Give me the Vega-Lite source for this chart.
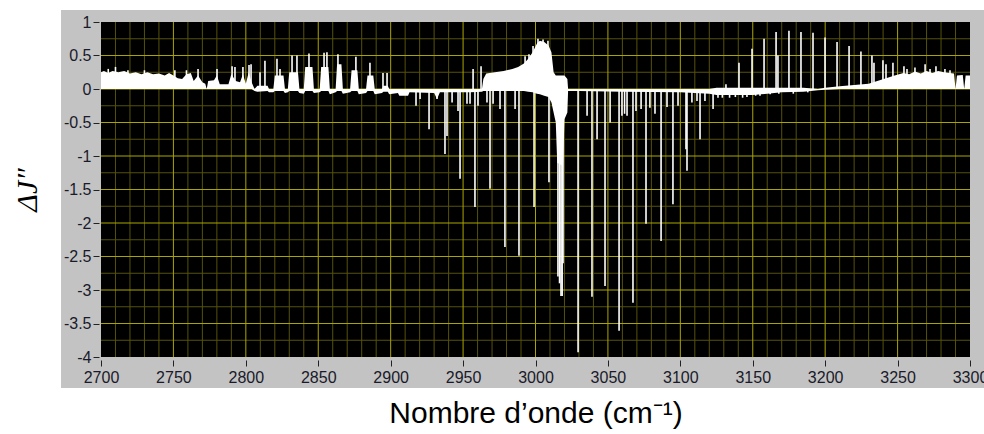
{
  "$schema": "https://vega.github.io/schema/vega-lite/v6.json",
  "width": 869,
  "height": 335,
  "autosize": {"type": "none"},
  "padding": {"left": 101, "top": 22, "right": 14, "bottom": 77},
  "background": "white",
  "config": {"view": {"stroke": null}, "axis": {"grid": false}},
  "resolve": {"axis": {"x": "independent", "y": "independent"}},
  "datasets": {
    "frame": [{"w": 2672.4, "w2": 3310, "v": 1.179, "v2": -4.463}],
    "plot": [{"w": 2700, "w2": 3300, "v": 1, "v2": -4}],
    "vminor": [{"w":2710},{"w":2720},{"w":2730},{"w":2740},{"w":2760},{"w":2770},{"w":2780},{"w":2790},{"w":2810},{"w":2820},{"w":2830},{"w":2840},{"w":2860},{"w":2870},{"w":2880},{"w":2890},{"w":2910},{"w":2920},{"w":2930},{"w":2940},{"w":2960},{"w":2970},{"w":2980},{"w":2990},{"w":3010},{"w":3020},{"w":3030},{"w":3040},{"w":3060},{"w":3070},{"w":3080},{"w":3090},{"w":3110},{"w":3120},{"w":3130},{"w":3140},{"w":3160},{"w":3170},{"w":3180},{"w":3190},{"w":3210},{"w":3220},{"w":3230},{"w":3240},{"w":3260},{"w":3270},{"w":3280},{"w":3290}],
    "vmajor": [{"w":2750},{"w":2800},{"w":2850},{"w":2900},{"w":2950},{"w":3000},{"w":3050},{"w":3100},{"w":3150},{"w":3200},{"w":3250}],
    "hminor": [{"v":0.75},{"v":0.25},{"v":-0.25},{"v":-0.75},{"v":-1.25},{"v":-1.75},{"v":-2.25},{"v":-2.75},{"v":-3.25},{"v":-3.75}],
    "hmajor": [{"v":0.5},{"v":0},{"v":-0.5},{"v":-1},{"v":-1.5},{"v":-2},{"v":-2.5},{"v":-3},{"v":-3.5}],
    "env": [
      {"w":2700,"v":0.25,"v2":0},{"w":2702,"v":0.27,"v2":0},{"w":2705,"v":0.24,"v2":0},{"w":2708,"v":0.27,"v2":0},{"w":2712,"v":0.25,"v2":0},{"w":2716,"v":0.27,"v2":0},{"w":2720,"v":0.23,"v2":0},{"w":2724,"v":0.25,"v2":0},{"w":2728,"v":0.22,"v2":0},{"w":2732,"v":0.25,"v2":0},{"w":2736,"v":0.22,"v2":0},{"w":2740,"v":0.23,"v2":0},{"w":2744,"v":0.2,"v2":0},{"w":2747,"v":0.24,"v2":0},{"w":2750,"v":0.2,"v2":0},{"w":2753,"v":0.16,"v2":0},{"w":2756,"v":0.15,"v2":0},{"w":2759,"v":0.22,"v2":0},{"w":2762,"v":0.24,"v2":0},{"w":2764,"v":0.12,"v2":0},{"w":2767,"v":0.2,"v2":0},{"w":2770,"v":0.1,"v2":0},{"w":2772,"v":0.08,"v2":0},{"w":2773,"v":0.0,"v2":0},{"w":2774,"v":0.12,"v2":0},{"w":2778,"v":0.13,"v2":0},{"w":2780,"v":0.2,"v2":0},{"w":2782,"v":0.07,"v2":0},{"w":2788,"v":0.07,"v2":0},{"w":2790,"v":0.22,"v2":0},{"w":2793,"v":0.12,"v2":0},{"w":2796,"v":0.1,"v2":0},{"w":2798,"v":0.22,"v2":0},{"w":2800,"v":0.08,"v2":0},{"w":2802,"v":0.25,"v2":0},{"w":2804,"v":0.1,"v2":0},
      {"w":2806,"v":0,"v2":-0.03},{"w":2808,"v":0.05,"v2":-0.04},{"w":2815,"v":0.05,"v2":-0.03},{"w":2816,"v":0,"v2":-0.05},{"w":2819,"v":0,"v2":-0.05},{"w":2820,"v":0.2,"v2":-0.03},{"w":2826,"v":0.2,"v2":-0.03},{"w":2827,"v":0,"v2":-0.06},{"w":2829,"v":0,"v2":-0.05},{"w":2830,"v":0.25,"v2":-0.03},{"w":2836,"v":0.25,"v2":-0.03},{"w":2837,"v":0,"v2":-0.06},{"w":2840,"v":0,"v2":-0.07},{"w":2841,"v":0.33,"v2":-0.03},{"w":2846,"v":0.33,"v2":-0.03},{"w":2847,"v":0,"v2":-0.06},{"w":2851,"v":0,"v2":-0.05},{"w":2852,"v":0.33,"v2":-0.03},{"w":2857,"v":0.33,"v2":-0.03},{"w":2858,"v":0,"v2":-0.08},{"w":2862,"v":0,"v2":-0.05},{"w":2863,"v":0.37,"v2":-0.03},{"w":2866,"v":0.37,"v2":-0.03},{"w":2867,"v":0,"v2":-0.07},{"w":2872,"v":0,"v2":-0.05},{"w":2873,"v":0.28,"v2":-0.03},{"w":2877,"v":0.28,"v2":-0.03},{"w":2878,"v":0,"v2":-0.08},{"w":2883,"v":0,"v2":-0.06},{"w":2884,"v":0.2,"v2":-0.03},{"w":2888,"v":0.2,"v2":-0.03},{"w":2889,"v":0,"v2":-0.08},{"w":2894,"v":0,"v2":-0.06},{"w":2895,"v":0.05,"v2":-0.04},{"w":2898,"v":0.05,"v2":-0.04},{"w":2899,"v":0,"v2":-0.08},{"w":2905,"v":0,"v2":-0.06},{"w":2906,"v":0,"v2":-0.1},{"w":2912,"v":0,"v2":-0.1},{"w":2913,"v":0,"v2":-0.05},{"w":2930,"v":0,"v2":-0.06},{"w":2932,"v":0,"v2":-0.15},{"w":2934,"v":0,"v2":-0.05},{"w":2955,"v":0,"v2":-0.05},{"w":2963,"v":0,"v2":-0.04},
      {"w":2964,"v":0.15,"v2":-0.03},{"w":2966,"v":0.23,"v2":-0.03},{"w":2972,"v":0.25,"v2":-0.03},{"w":2978,"v":0.27,"v2":-0.03},{"w":2984,"v":0.3,"v2":-0.03},{"w":2988,"v":0.33,"v2":-0.03},{"w":2992,"v":0.38,"v2":-0.03},{"w":2995,"v":0.45,"v2":-0.04},{"w":2998,"v":0.55,"v2":-0.05},{"w":3001,"v":0.68,"v2":-0.07},{"w":3003,"v":0.72,"v2":-0.08},{"w":3006,"v":0.7,"v2":-0.1},{"w":3009,"v":0.65,"v2":-0.12},{"w":3011,"v":0.55,"v2":-0.2},{"w":3012.5,"v":0.25,"v2":-0.35},{"w":3014,"v":0.2,"v2":-0.5},{"w":3015,"v":0.2,"v2":-1.1},{"w":3019,"v":0.2,"v2":-1.15},{"w":3020,"v":0.2,"v2":-0.45},{"w":3022,"v":0.15,"v2":-0.35},{"w":3022.5,"v":0,"v2":-0.03},
      {"w":3030,"v":0,"v2":-0.03},{"w":3060,"v":0,"v2":-0.04},{"w":3100,"v":0,"v2":-0.05},{"w":3120,"v":0,"v2":-0.07},{"w":3125,"v":0.02,"v2":-0.09},{"w":3150,"v":0.02,"v2":-0.09},{"w":3160,"v":0.02,"v2":-0.07},{"w":3170,"v":0.02,"v2":-0.05},{"w":3185,"v":0.02,"v2":-0.04},{"w":3195,"v":0,"v2":-0.02},{"w":3200,"v":0.02,"v2":-0.01},{"w":3210,"v":0.04,"v2":0},{"w":3220,"v":0.06,"v2":0},{"w":3230,"v":0.08,"v2":0},{"w":3236,"v":0.12,"v2":0},{"w":3242,"v":0.16,"v2":0},{"w":3248,"v":0.2,"v2":0},{"w":3254,"v":0.24,"v2":0},{"w":3258,"v":0.22,"v2":0},{"w":3262,"v":0.26,"v2":0},{"w":3266,"v":0.23,"v2":0},{"w":3270,"v":0.27,"v2":0},{"w":3274,"v":0.24,"v2":0},{"w":3278,"v":0.27,"v2":0},{"w":3282,"v":0.25,"v2":0},{"w":3286,"v":0.24,"v2":0},{"w":3289,"v":0.23,"v2":0},{"w":3290,"v":0,"v2":0},{"w":3291,"v":0.2,"v2":0},{"w":3295,"v":0.21,"v2":0},{"w":3296,"v":0,"v2":0},{"w":3297,"v":0.2,"v2":0},{"w":3300,"v":0.2,"v2":0}
    ],
    "lines": [
      {"w":2705,"v":0.3},{"w":2710,"v":0.33},{"w":2718.6,"v":0.28},{"w":2730,"v":0.28},{"w":2751,"v":0.28},{"w":2759,"v":0.28},{"w":2767,"v":0.3},
      {"w":2780.1,"v":0.3},{"w":2790.5,"v":0.34},{"w":2792.5,"v":0.33},{"w":2798,"v":0.33},{"w":2802.2,"v":0.36},{"w":2803.6,"v":0.37},{"w":2809.8,"v":0.25},{"w":2813.2,"v":0.42},{"w":2821.5,"v":0.45},{"w":2823.6,"v":0.3},{"w":2831.9,"v":0.5},{"w":2835.3,"v":0.5},{"w":2843.6,"v":0.53},{"w":2854,"v":0.54},{"w":2856,"v":0.55},{"w":2863.6,"v":0.52},{"w":2876,"v":0.48},{"w":2885.7,"v":0.39},{"w":2894.7,"v":0.24},{"w":2897.5,"v":0.24},
      {"w":2917.5,"v":-0.25},{"w":2920.3,"v":-0.15},{"w":2926.5,"v":-0.6},{"w":2932,"v":-0.15},{"w":2937.5,"v":-0.97},{"w":2938.9,"v":-0.7},{"w":2942.4,"v":-0.2},{"w":2946.5,"v":-0.33},{"w":2947.9,"v":-1.34},{"w":2952.7,"v":-0.22},{"w":2954.8,"v":-0.22},{"w":2958.2,"v":-1.76},{"w":2960.3,"v":-0.25},{"w":2966.5,"v":-0.2},{"w":2968.6,"v":-1.49},{"w":2970.7,"v":-0.22},{"w":2975.5,"v":-0.3},{"w":2978.9,"v":-2.36},{"w":2985.9,"v":-0.3},{"w":2988.6,"v":-2.49},{"w":2999,"v":-1.76},{"w":3009.3,"v":-1.39},{"w":3015.5,"v":-2.8},{"w":3016.6,"v":-2.9},{"w":3017.6,"v":-3.09},{"w":3018.4,"v":-3.09},{"w":3019,"v":-2.6},
      {"w":3029.4,"v":-3.93},{"w":3035.6,"v":-0.4},{"w":3039,"v":-3.1},{"w":3042.5,"v":-0.75},{"w":3048,"v":-2.94},{"w":3051.5,"v":-0.5},{"w":3057.7,"v":-3.61},{"w":3059.7,"v":-0.4},{"w":3061.5,"v":-0.37},{"w":3063.2,"v":-0.4},{"w":3067.3,"v":-3.19},{"w":3069.4,"v":-0.33},{"w":3072.9,"v":-0.3},{"w":3076.3,"v":-2.01},{"w":3079,"v":-0.28},{"w":3082.5,"v":-0.37},{"w":3086.7,"v":-2.27},{"w":3090.8,"v":-0.27},{"w":3094.9,"v":-1.72},{"w":3098.4,"v":-0.25},{"w":3103.9,"v":-0.9},{"w":3104.6,"v":-1.22},{"w":3108,"v":-0.2},{"w":3111.5,"v":-0.18},{"w":3113.6,"v":-0.75},{"w":3117,"v":-0.18},{"w":3122.6,"v":-0.3},
      {"w":3126,"v":-0.13},{"w":3129,"v":-0.13},{"w":3134,"v":-0.13},{"w":3138,"v":-0.12},{"w":3143,"v":-0.13},{"w":3146,"v":-0.12},{"w":3152,"v":-0.1},{"w":3155,"v":-0.1},{"w":3162,"v":-0.08},{"w":3168,"v":-0.07},{"w":3178,"v":-0.07},{"w":3188,"v":-0.05},
      {"w":2956.9,"v":0.3},{"w":2962.4,"v":0.34},{"w":2992.8,"v":0.49},{"w":2995.5,"v":0.52},{"w":2998.3,"v":0.64},{"w":3001.7,"v":0.75},{"w":3005.2,"v":0.74},{"w":3008.6,"v":0.72},
      {"w":3131.5,"v":0.07},{"w":3140.5,"v":0.39},{"w":3149.5,"v":0.6},{"w":3157.8,"v":0.75},{"w":3166.1,"v":0.85},{"w":3167.4,"v":0.5},{"w":3175,"v":0.87},{"w":3183.3,"v":0.85},{"w":3191.6,"v":0.84},{"w":3199.9,"v":0.77},{"w":3208.2,"v":0.7},{"w":3216.5,"v":0.64},{"w":3224.7,"v":0.56},{"w":3232.3,"v":0.5},{"w":3233.7,"v":0.39},{"w":3239.9,"v":0.43},{"w":3242,"v":0.37},{"w":3246.8,"v":0.39},{"w":3254.4,"v":0.34},{"w":3256.5,"v":0.3},{"w":3262,"v":0.32},{"w":3269,"v":0.37},{"w":3272.4,"v":0.3},{"w":3276.5,"v":0.34},{"w":3282.7,"v":0.3},{"w":3286.2,"v":0.28}
    ]
  },
  "layer": [
    {
      "data": {"name": "frame"},
      "mark": {"type": "rect", "clip": false, "color": "#c3c3c3"},
      "encoding": {
        "x": {"field": "w", "type": "quantitative",
          "scale": {"domain": [2700, 3300], "nice": false, "zero": false},
          "axis": {"zindex": 1, "grid": false, "domain": false,
            "values": [2700,2750,2800,2850,2900,2950,3000,3050,3100,3150,3200,3250,3300],
            "labelExpr": "'' + datum.value", "offset": 3, "tickSize": 6, "tickColor": "#222", "labelPadding": 3,
            "labelFont": "Liberation Sans", "labelFontSize": 16, "labelColor": "#1a1a2a", "labelFlush": false, "labelOverlap": false,
            "title": "Nombre d’onde (cm⁻¹)", "titleFont": "Liberation Sans", "titleFontSize": 30, "titleFontWeight": "normal", "titleColor": "#000",
            "titleY": 62, "titleBaseline": "alphabetic"}},
        "x2": {"field": "w2"},
        "y": {"field": "v", "type": "quantitative",
          "scale": {"domain": [-4, 1], "nice": false, "zero": false},
          "axis": {"zindex": 1, "grid": false, "domain": false,
            "values": [1,0.5,0,-0.5,-1,-1.5,-2,-2.5,-3,-3.5,-4],
            "labelExpr": "'' + datum.value", "offset": 2, "tickSize": 6, "tickColor": "#222", "labelPadding": 2,
            "labelFont": "Liberation Sans", "labelFontSize": 16, "labelColor": "#1a1a2a", "labelFlush": false, "labelOverlap": false,
            "title": "ΔJ″", "titleFont": "Liberation Serif", "titleFontSize": 30, "titleFontStyle": "italic", "titleFontWeight": "normal", "titleColor": "#000",
            "titleX": -72, "titleBaseline": "middle"}},
        "y2": {"field": "v2"}
      }
    },
    {
      "data": {"name": "plot"},
      "mark": {"type": "rect", "color": "#000000"},
      "encoding": {
        "x": {"field": "w", "type": "quantitative", "axis": null},
        "x2": {"field": "w2"},
        "y": {"field": "v", "type": "quantitative", "axis": null},
        "y2": {"field": "v2"}
      }
    },
    {
      "data": {"name": "vminor"},
      "mark": {"type": "rule", "color": "#55520a", "strokeWidth": 1},
      "encoding": {"x": {"field": "w", "type": "quantitative", "axis": null}}
    },
    {
      "data": {"name": "hminor"},
      "mark": {"type": "rule", "color": "#55520a", "strokeWidth": 1},
      "encoding": {"y": {"field": "v", "type": "quantitative", "axis": null}}
    },
    {
      "data": {"name": "vmajor"},
      "mark": {"type": "rule", "color": "#aaa400", "strokeWidth": 1},
      "encoding": {"x": {"field": "w", "type": "quantitative", "axis": null}}
    },
    {
      "data": {"name": "hmajor"},
      "mark": {"type": "rule", "color": "#aaa400", "strokeWidth": 1},
      "encoding": {"y": {"field": "v", "type": "quantitative", "axis": null}}
    },
    {
      "data": {"name": "env"},
      "mark": {"type": "area", "color": "#ffffff", "opacity": 1},
      "encoding": {
        "x": {"field": "w", "type": "quantitative", "axis": null},
        "y": {"field": "v", "type": "quantitative", "axis": null},
        "y2": {"field": "v2"}
      }
    },
    {
      "data": {"name": "lines"},
      "mark": {"type": "rule", "color": "#ffffff", "strokeWidth": 1.6},
      "encoding": {
        "x": {"field": "w", "type": "quantitative", "axis": null},
        "y": {"field": "v", "type": "quantitative", "axis": null},
        "y2": {"datum": 0}
      }
    }
  ]
}
